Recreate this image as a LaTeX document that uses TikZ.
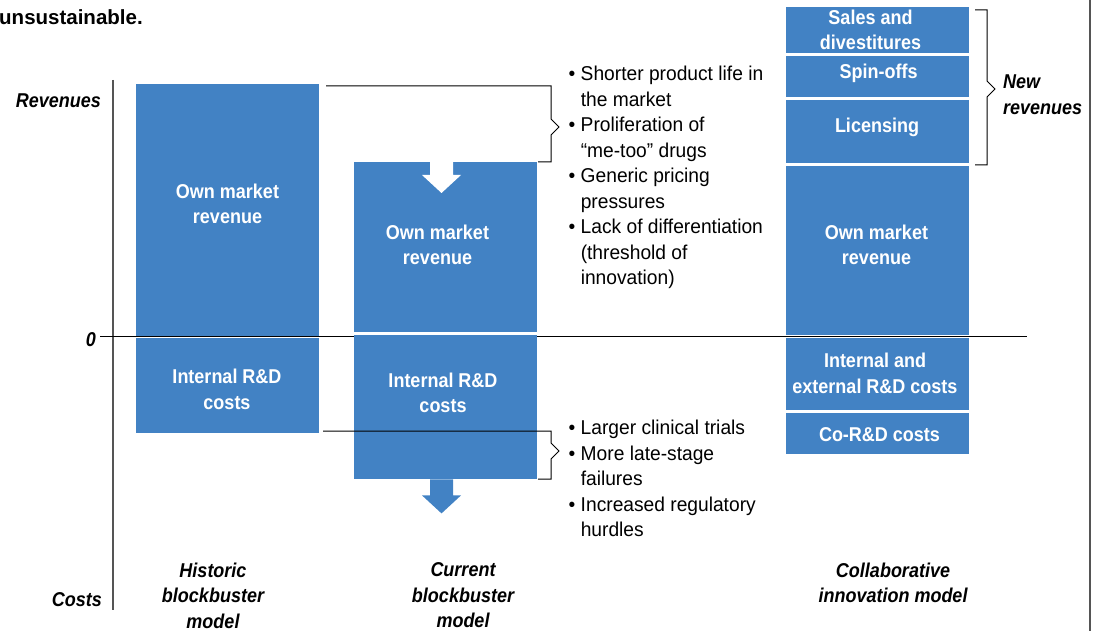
\documentclass[tikz,border=0pt]{standalone}
\usepackage{fontspec}
\setmainfont{Liberation Sans}[FakeStretch=0.96,
  BoldFeatures={FakeStretch=0.9}, BoldItalicFeatures={FakeStretch=0.9}]
\newfontfamily\widesans{Liberation Sans}
\definecolor{barblue}{HTML}{4282C4}
\definecolor{axisgray}{HTML}{555555}
\begin{document}
\begin{tikzpicture}[x=1pt,y=-1pt,
  txt/.style={font=\fontsize{20}{25.5}\selectfont, inner sep=0pt},
  bar/.style={fill=barblue, draw=none, inner sep=0pt, anchor=north west, minimum width=183pt},
  bartext/.style={txt, text=white, font=\fontsize{20}{25.5}\selectfont\bfseries, align=center},
  axislabel/.style={txt, font=\fontsize{20}{25.5}\selectfont\bfseries\itshape},
  modellabel/.style={axislabel, align=center, anchor=north},
  bullets/.style={txt, align=left, anchor=north west},
  bracket/.style={draw=black, line width=1pt}]
\useasboundingbox (0,0) rectangle (1098,631);

% title fragment
\node[txt, font=\fontsize{20.5}{25.5}\selectfont\widesans\bfseries, anchor=west] (title) at (-1,17) {unsustainable.};

% axes
\coordinate (axtop) at (113,80);
\coordinate (axbot) at (113,610);
\draw[axisgray, line width=1.2pt] (axtop) -- (axbot);
\coordinate (zl) at (100,336);
\coordinate (zr) at (1027,336);
\draw[black, line width=1pt] (zl) -- (zr);
\coordinate (rtop) at (1090,0);
\coordinate (rbot) at (1090,631);
\draw[axisgray, line width=1.2pt] (rtop) -- (rbot);

\node[axislabel, anchor=east] (rev) at (101,101) {Revenues};
\node[axislabel, anchor=east] (zero) at (96,340) {0};
\node[axislabel, anchor=east] (cst) at (102,600) {Costs};

% column 1: historic model
\node[bar, minimum height=252pt] (h1) at (136,84) {};
\node[bar, minimum height=95pt] (h2) at (136,338) {};
\node[bartext] (h1t) at (227.5,204) {Own market\\revenue};
\node[bartext] (h2t) at (227,389.5) {Internal R\&D\\costs};

% column 2: current model
\node[bar, minimum height=170pt] (c1) at (354,162) {};
\node[bar, minimum height=144pt] (c2) at (354,335) {};
\node[bartext] (c1t) at (437.5,245) {Own market\\revenue};
\node[bartext] (c2t) at (443,393) {Internal R\&D\\costs};
\fill[white] ([xshift=76pt]c1.north west) -- ++(23,0) -- ++(0,13) -- ++(8,0)
  -- ++(-19.5,18) -- ++(-19.5,-18) -- ++(8,0) -- cycle;
\fill[barblue] ([xshift=76pt]c2.south west) -- ++(23,0) -- ++(0,16) -- ++(8,0)
  -- ++(-19.5,18) -- ++(-19.5,-18) -- ++(8,0) -- cycle;

% column 3: collaborative model
\node[bar, minimum height=46pt] (n1) at (786,7) {};
\node[bar, minimum height=41pt] (n2) at (786,56) {};
\node[bar, minimum height=63pt] (n3) at (786,100) {};
\node[bar, minimum height=169pt] (n4) at (786,166) {};
\node[bar, minimum height=72pt] (n5) at (786,338) {};
\node[bar, minimum height=41pt] (n6) at (786,413) {};
\node[bartext] (n1t) at (870.5,30) {Sales and\\divestitures};
\node[bartext] (n2t) at (878.5,73) {Spin-offs};
\node[bartext] (n3t) at (877,127) {Licensing};
\node[bartext] (n4t) at (876.5,245) {Own market\\revenue};
\node[bartext] (n5t) at (875,373.5) {Internal and\\external R\&D costs};
\node[bartext] (n6t) at (879.5,435) {Co-R\&D costs};

% brackets
\coordinate (bt1) at (326,86);
\coordinate (bt2) at (538,162);
\draw[bracket] (bt1) -- (551,86) -- (551,119) -- (559,127) -- (551,135) -- (551,162) -- (bt2);
\coordinate (bb1) at (323,431);
\coordinate (bb2) at (538,479);
\draw[bracket] (bb1) -- (551,431) -- (551,443) -- (559,451) -- (551,459) -- (551,479) -- (bb2);
\coordinate (bn1) at (975,10);
\coordinate (bn2) at (975,165);
\draw[bracket] (bn1) -- (987,10) -- (987,81) -- (995,89) -- (987,97) -- (987,165) -- (bn2);

% bullet lists
\node[bullets] (pressures) at (568.5,66) {%
\textbullet\ Shorter product life in\\\phantom{\textbullet\ }the market\\
\textbullet\ Proliferation of\\\phantom{\textbullet\ }“me-too” drugs\\
\textbullet\ Generic pricing\\\phantom{\textbullet\ }pressures\\
\textbullet\ Lack of differentiation\\\phantom{\textbullet\ }(threshold of\\\phantom{\textbullet\ }innovation)};
\node[bullets] (costs) at (568.5,420) {%
\textbullet\ Larger clinical trials\\
\textbullet\ More late-stage\\\phantom{\textbullet\ }failures\\
\textbullet\ Increased regulatory\\\phantom{\textbullet\ }hurdles};

\node[axislabel, align=left, anchor=north west] (newrev) at (1003,75) {New\\revenues};

% model labels
\node[modellabel] (m1) at (213,562.5) {Historic\\blockbuster\\model};
\node[modellabel] (m2) at (463,562.5) {Current\\blockbuster\\model};
\node[modellabel] (m3) at (893,562.5) {Collaborative\\innovation model};
\end{tikzpicture}
\end{document}
